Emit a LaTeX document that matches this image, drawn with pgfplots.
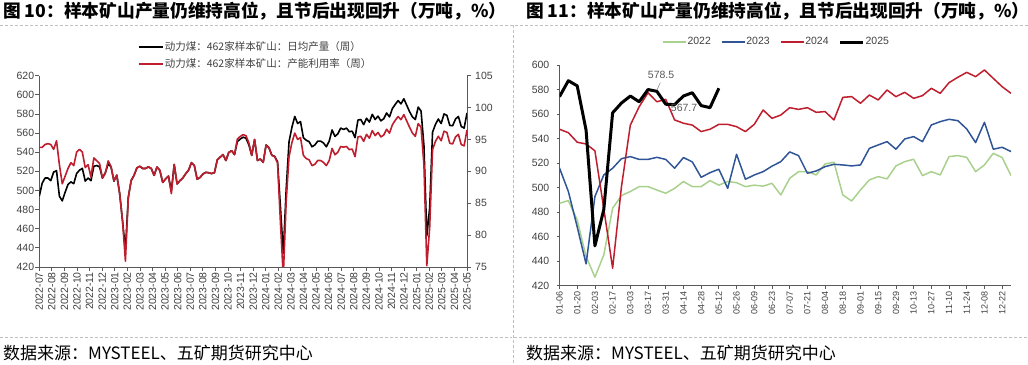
\documentclass[border=0pt]{standalone}
\usepackage{fontspec}
\setmainfont{Liberation Sans}
\newfontfamily\cjk{Noto Sans CJK SC}
\usepackage{pgfplots}
\pgfplotsset{compat=1.18}
\usepackage{pgfplotstable}

\definecolor{axisgray}{HTML}{595959}
\definecolor{labelgray}{HTML}{404040}
\definecolor{myred}{HTML}{BE1E2D}
\definecolor{myblue}{HTML}{2F5597}
\definecolor{mygreen}{HTML}{A9D18E}
\definecolor{dashgray}{HTML}{BFBFBF}

\pgfplotstableread{
g out util
25 494.0 93.75
26 507.6 93.75
27 513.0 94.2
28 513.0 94.35
29 510.3 94.2
30 519.3 93.45
31 520.7 94.8
32 494.0 91.05
33 489.1 88.05
34 498.1 89.25
35 506.3 90.45
36 509.0 91.35
37 507.1 90.9
38 517.7 93.0
39 521.2 93.45
40 523.1 93.0
41 509.8 90.6
42 513.0 91.05
43 510.3 89.1
44 525.3 92.1
45 526.1 91.65
46 524.7 91.2
47 513.0 88.95
48 518.5 89.7
49 528.0 91.65
50 524.5 90.75
51 509.8 88.5
52 516 89.4
53 496.8 86.5
54 468 82.2
55 437.8 75.9
56 492.7 85.9
57 510.3 88.55
58 515.8 89.37
59 523.6 90.54
60 525.3 90.8
61 523 90.45
62 523 90.45
63 524.7 90.7
64 523 90.45
65 515.8 89.37
66 524.5 90.68
67 521 90.15
68 508.4 88.26
69 512.2 88.83
70 515 89.25
71 499.4 86.5
72 527.2 91.08
73 506.8 88.02
74 510.3 88.55
75 513 88.95
76 517.5 89.63
77 521.2 90.18
78 529.1 91.37
79 526.1 90.92
80 511.7 88.76
81 513.6 89.04
82 517.1 89.57
83 519 89.85
84 518.5 89.78
85 517.7 89.66
86 518.5 89.78
87 532 91.8
88 534.8 92.22
89 537.5 92.63
90 531.3 91.7
91 539.7 92.96
92 541.6 93.24
93 537.5 92.63
94 551.1 95.07
95 553.8 95.47
96 555.7 95.76
97 554.6 95.59
98 547.8 94.47
99 536.7 92.5
100 553.3 95.0
101 531.3 91.7
102 532.9 91.94
103 529.4 91.41
104 547.6 94.1
105 544.8 93.7
106 537 92.5
107 535.6 92.3
108 530 91.3
109 483 82
110 434.3 73.5
111 500.8 85.2
112 551 92.3
113 566 94.5
114 577.4 96.0
115 570 95.0
116 572 95.3
117 555.2 92.5
118 552.5 92.0
119 551 91.8
120 545.7 90.9
121 547.6 91.1
122 551.6 91.7
123 551.6 91.7
124 549.7 91.4
125 545.7 90.9
126 551.6 91.7
127 563.3 93.6
128 556.5 92.6
129 559.2 93.0
130 565.2 93.9
131 563.8 93.8
132 565.2 93.9
133 561.4 93.4
134 562 93.5
135 555.2 92.3
136 573.6 95.4
137 574.2 95.5
138 568.8 94.7
139 575.5 95.8
140 571.5 95.2
141 579.6 96.4
142 574.2 95.6
143 577.7 96.1
144 572.8 95.4
145 575 95.7
146 581 96.6
147 576.9 96.0
148 585.6 97.3
149 590 98.0
150 594 98.6
151 590.5 98.1
152 595.9 98.9
153 589.1 97.9
154 582.3 96.9
155 576.9 96.0
156 574.2 95.5
157 587.2 97.5
158 583 96.9
159 547 91.0
160 452.5 75.2
161 482 81.2
162 561 93.4
163 569 94.7
164 574.7 95.5
165 570 94.8
166 580 96.3
167 578.5 96.1
168 568 94.4
169 567.7 94.3
170 574.7 95.4
171 577.4 95.8
172 566.9 94.2
173 565.2 94.0
174 581 96.5
}\lefttable

\pgfplotstableread{
w y
0 487.2
1 489.4
2 473.6
3 443.8
4 427
5 445
6 483.2
7 493.5
8 496.8
9 500.8
10 500.8
11 498
12 495.4
13 499.4
14 505
15 500.8
16 500.8
17 505.7
18 502
19 505
20 504
21 500.8
22 502
23 501.2
24 503.5
25 494
26 507.6
27 513
28 513
29 510.3
30 519.3
31 520.7
32 494
33 489.1
34 498.1
35 506.3
36 509
37 507.1
38 517.7
39 521.2
40 523.1
41 509.8
42 513
43 510.3
44 525.3
45 526.1
46 524.7
47 513
48 518.5
49 528
50 524.5
51 509.8
}\ya

\pgfplotstableread{
w y
0 516
1 496.8
2 468
3 437.8
4 492.7
5 510.3
6 515.8
7 523.6
8 525.3
9 523
10 523
11 524.7
12 523
13 515.8
14 524.5
15 521
16 508.4
17 512.2
18 515
19 499.4
20 527.2
21 506.8
22 510.3
23 513
24 517.5
25 521.2
26 529.1
27 526.1
28 511.7
29 513.6
30 517.1
31 519
32 518.5
33 517.7
34 518.5
35 532
36 534.8
37 537.5
38 531.3
39 539.7
40 541.6
41 537.5
42 551.1
43 553.8
44 555.7
45 554.6
46 547.8
47 536.7
48 553.3
49 531.3
50 532.9
51 529.4
}\yb

\pgfplotstableread{
w y
0 547.6
1 544.8
2 537
3 535.6
4 530
5 483
6 434.3
7 500.8
8 551
9 566
10 577.4
11 570
12 572
13 555.2
14 552.5
15 551
16 545.7
17 547.6
18 551.6
19 551.6
20 549.7
21 545.7
22 551.6
23 563.3
24 556.5
25 559.2
26 565.2
27 563.8
28 565.2
29 561.4
30 562
31 555.2
32 573.6
33 574.2
34 568.8
35 575.5
36 571.5
37 579.6
38 574.2
39 577.7
40 572.8
41 575
42 581
43 576.9
44 585.6
45 590
46 594
47 590.5
48 595.9
49 589.1
50 582.3
51 576.9
}\yc

\pgfplotstableread{
w y
0 574.2
1 587.2
2 583
3 547
4 452.5
5 482
6 561
7 569
8 574.7
9 570
10 580
11 578.5
12 568
13 567.7
14 574.7
15 577.4
16 566.9
17 565.2
18 581
}\yd

\pgfplotsset{
  mystyle/.style={
    scale only axis,
    axis line style={color=axisgray, line width=0.8bp},
    tick style={color=axisgray, line width=0.8bp},
    major tick length=4bp,
    tick align=outside,
    tick label style={font=\fontsize{10.5bp}{12bp}\selectfont, text=labelgray},
    /pgf/number format/assume math mode=true,
    line join=round,
  }
}

\begin{document}
\begin{tikzpicture}
\useasboundingbox (0bp,0bp) rectangle (1028bp,365bp);

% frames
\draw[dashgray, line width=0.8bp, dash pattern=on 3bp off 2bp] (0bp,340bp) -- (1028bp,340bp);
\draw[dashgray, line width=0.8bp, dash pattern=on 3bp off 2bp] (513bp,340bp) -- (513bp,0bp);
\draw[dashgray, line width=0.8bp, dash pattern=on 3bp off 2bp] (0bp,28bp) -- (512bp,28bp);
\draw[dashgray, line width=0.8bp, dash pattern=on 3bp off 2bp] (514bp,28bp) -- (1028bp,28bp);

% titles
\node[anchor=west, inner sep=0, font=\cjk\bfseries\fontsize{17.7bp}{20bp}\selectfont] at (3bp,354bp) {图 10：样本矿山产量仍维持高位，且节后出现回升（万吨，\%）};
\node[anchor=west, inner sep=0, font=\cjk\bfseries\fontsize{17.7bp}{20bp}\selectfont] at (526bp,354bp) {图 11：样本矿山产量仍维持高位，且节后出现回升（万吨，\%）};

% sources
\node[anchor=west, inner sep=0, font=\cjk\fontsize{17bp}{20bp}\selectfont] at (3bp,12bp) {数据来源：MYSTEEL、五矿期货研究中心};
\node[anchor=west, inner sep=0, font=\cjk\fontsize{17bp}{20bp}\selectfont] at (526bp,12bp) {数据来源：MYSTEEL、五矿期货研究中心};

% ---------- left chart ----------
\begin{axis}[mystyle,
  at={(39.3bp,98bp)}, anchor=south west,
  width=427.7bp, height=191.3bp,
  xmin=25, xmax=174, ymin=420, ymax=620,
  axis y line*=left, axis x line*=bottom,
  ytick={420,440,...,620},
  xtick={25,29.38235,...,174.05},
  xticklabels={2022-07,2022-08,2022-09,2022-10,2022-11,2022-12,2023-01,2023-02,2023-03,2023-04,2023-05,2023-06,2023-07,2023-08,2023-09,2023-10,2023-11,2023-12,2024-01,2024-02,2024-03,2024-04,2024-05,2024-06,2024-07,2024-08,2024-09,2024-10,2024-11,2024-12,2025-01,2025-02,2025-03,2025-04,2025-05},
  xticklabel style={rotate=90, anchor=east, inner sep=1bp},
  yticklabel style={inner sep=1bp},
]
\addplot[black, line width=1.6bp, no markers] table[x=g, y=out] {\lefttable};
\end{axis}

\begin{axis}[mystyle,
  at={(39.3bp,98bp)}, anchor=south west,
  width=427.7bp, height=191.3bp,
  xmin=25, xmax=174, ymin=75, ymax=105,
  axis y line*=right, axis x line*=bottom, xtick=\empty,
  x axis line style={draw=none},
  ytick={75,80,...,105},
  yticklabel style={inner sep=1bp, xshift=3bp},
  legend style={at={(0.2308,1.1056)}, anchor=west, draw=none, fill=none,
    font=\cjk\fontsize{10.5bp}{12bp}\selectfont, text=labelgray,
    inner sep=0bp, row sep=5bp, nodes={inner sep=1bp}},
  legend cell align=left,
  legend image code/.code={\draw[#1] (0bp,0bp) -- (24bp,0bp);},
]
\addlegendimage{black, line width=1.6bp}
\addlegendentry{动力煤：462家样本矿山：日均产量（周）}
\addplot[myred, line width=1.6bp, no markers] table[x=g, y=util] {\lefttable};
\addlegendentry{动力煤：462家样本矿山：产能利用率（周）}
\end{axis}

% ---------- right chart ----------
\begin{axis}[mystyle,
  at={(559.5bp,79.3bp)}, anchor=south west,
  width=451.5bp, height=220.7bp,
  xmin=0, xmax=51, ymin=420, ymax=600,
  axis y line*=left, axis x line*=bottom,
  ytick={420,440,...,600},
  xtick={0,2,...,50},
  xticklabels={01-06,01-20,02-03,02-17,03-03,03-17,03-31,04-14,04-28,05-12,05-26,06-09,06-23,07-07,07-21,08-04,08-18,09-01,09-15,09-29,10-13,10-27,11-10,11-24,12-08,12-22},
  xticklabel style={rotate=90, anchor=east, inner sep=3bp, font=\fontsize{9bp}{11bp}\selectfont},
  yticklabel style={inner sep=1bp, xshift=-6bp},
  major tick length=3bp,
  legend style={at={(0.4795,1.104)}, anchor=center, draw=none, fill=none,
    font=\fontsize{10.5bp}{12bp}\selectfont, text=labelgray,
    inner sep=0bp, nodes={inner sep=1bp},
    /tikz/every even column/.append style={column sep=9bp}},
  legend columns=4,
  legend image code/.code={\draw[#1] (0bp,0bp) -- (23bp,0bp);},
]
\addplot[mygreen, line width=1.5bp, no markers] table[x=w, y=y] {\ya};
\addlegendentry{2022}
\addplot[myblue, line width=1.5bp, no markers] table[x=w, y=y] {\yb};
\addlegendentry{2023}
\addplot[myred, line width=1.5bp, no markers] table[x=w, y=y] {\yc};
\addlegendentry{2024}
\addplot[black, line width=3bp, no markers] table[x=w, y=y] {\yd};
\addlegendentry{2025}
\node[font=\fontsize{10.5bp}{12bp}\selectfont, text=axisgray, inner sep=0] at (axis cs:11,578.5) [shift={(4.2bp,16.7bp)}] {578.5};
\draw[axisgray!70, line width=0.6bp] (axis cs:11,578.5) ++(0.2bp,1.6bp) -- ++(3.3bp,7.3bp);
\node[font=\fontsize{10.5bp}{12bp}\selectfont, text=axisgray, inner sep=0] at (axis cs:13,567.7) [shift={(9.5bp,-3.1bp)}] {567.7};
\end{axis}
\end{tikzpicture}
\end{document}
